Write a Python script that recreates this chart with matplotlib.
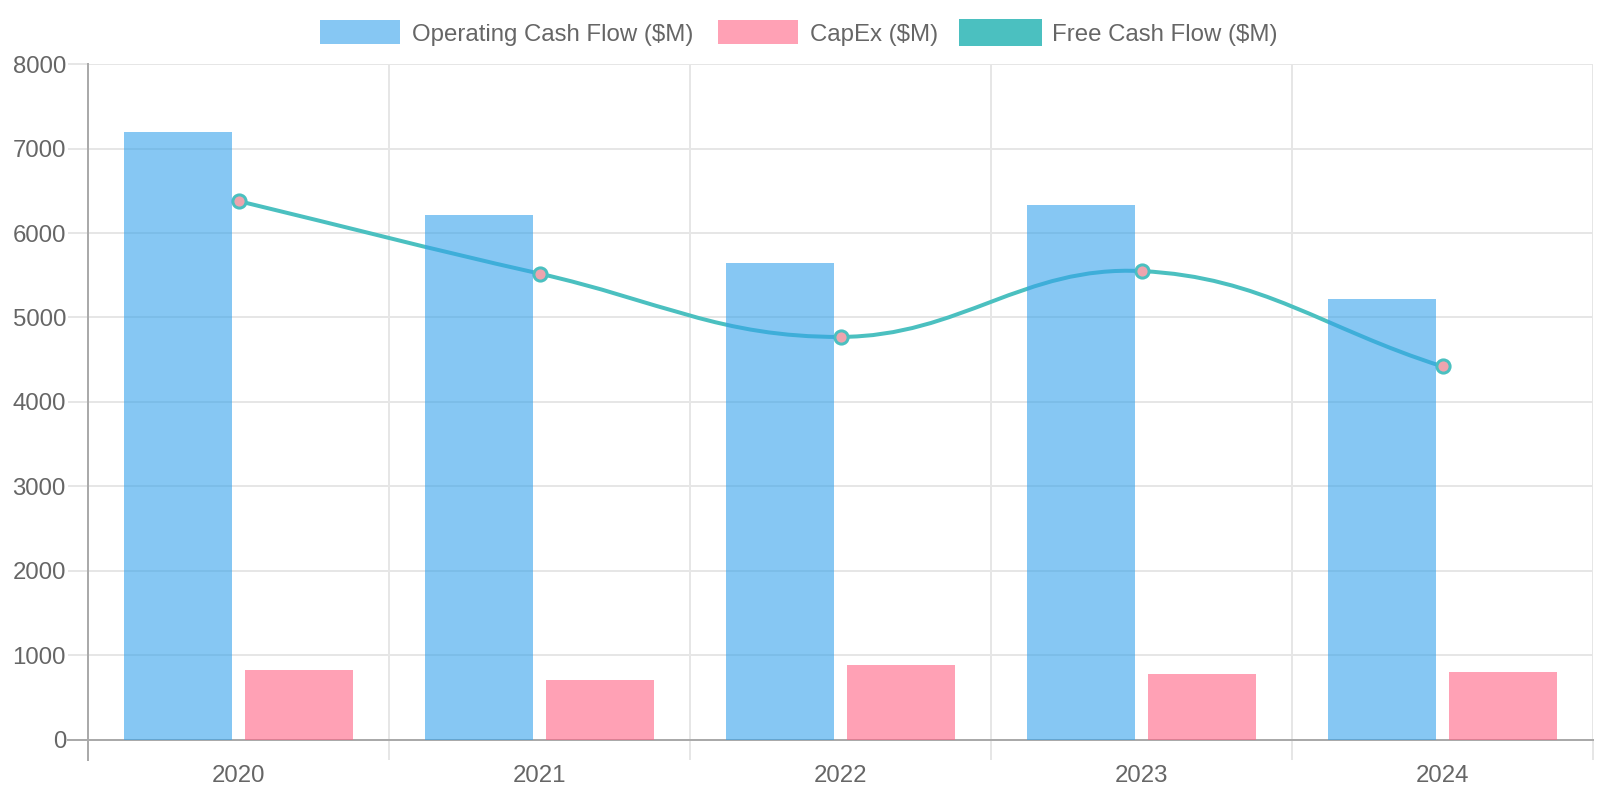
import numpy as np
import matplotlib
matplotlib.use("Agg")
import matplotlib.pyplot as plt
from matplotlib.path import Path
from matplotlib.patches import PathPatch, Rectangle
from matplotlib.lines import Line2D

plt.rcParams['font.family'] = ['Liberation Sans', 'DejaVu Sans']

# ---- data ----
years = ["2020", "2021", "2022", "2023", "2024"]
operating_cash_flow = [7200, 6220, 5650, 6330, 5220]
capex = [820, 700, 880, 780, 800]
free_cash_flow = [6380, 5520, 4770, 5550, 4420]
series_names = ["Operating Cash Flow ($M)", "CapEx ($M)", "Free Cash Flow ($M)"]
y_ticks = [0, 1000, 2000, 3000, 4000, 5000, 6000, 7000, 8000]

# ---- style ----
W, H = 1600, 800
PX = 72 / 100  # points per pixel at dpi 100
blue = (54/255, 162/255, 235/255, 0.6)
pink = (255/255, 99/255, 132/255, 0.6)
teal = (75/255, 192/255, 192/255)
grid_c = "#e6e6e6"
axis_c = "#aaaaaa"
text_c = "#666666"
fs = 24 * PX

fig = plt.figure(figsize=(W/100, H/100), dpi=100)
ax_l, ax_r, ax_t, ax_b = 88, 1593, 64.3, 739.5
ax = fig.add_axes([ax_l/W, 1 - ax_b/H, (ax_r-ax_l)/W, (ax_b-ax_t)/H])

n = len(years)
x = np.arange(n)
ax.set_xlim(-0.5, n - 0.5)
ax.set_ylim(0, 8000)

bw = 0.36
ax.bar(x - 0.2, operating_cash_flow, width=bw, color=blue, zorder=3, linewidth=0)
ax.bar(x + 0.2, capex, width=bw, color=pink, zorder=3, linewidth=0)

# spline line (Chart.js-like tension 0.4) computed in display space
pts = ax.transData.transform(np.column_stack([x, free_cash_flow]).astype(float))
t = 0.4
cp_prev = np.zeros_like(pts)
cp_next = np.zeros_like(pts)
for i in range(n):
    cur = pts[i]
    prev = pts[i-1] if i > 0 else cur
    nxt = pts[i+1] if i < n-1 else cur
    d01 = np.hypot(*(cur - prev))
    d12 = np.hypot(*(nxt - cur))
    tot = d01 + d12
    s01 = d01 / tot if tot else 0
    s12 = d12 / tot if tot else 0
    cp_prev[i] = cur - t * s01 * (nxt - prev)
    cp_next[i] = cur + t * s12 * (nxt - prev)
verts = [pts[0]]
codes = [Path.MOVETO]
for i in range(n - 1):
    verts += [cp_next[i], cp_prev[i+1], pts[i+1]]
    codes += [Path.CURVE4] * 3
verts = ax.transData.inverted().transform(np.array(verts))
ax.add_patch(PathPatch(Path(verts, codes), facecolor="none", edgecolor=teal,
                       linewidth=4*PX, zorder=2, capstyle="round", joinstyle="round"))
ax.plot(x, free_cash_flow, linestyle="none", marker="o", markersize=9.5,
        markerfacecolor="#eea4ae", markeredgecolor=teal, markeredgewidth=3*PX, zorder=2.5)

# axes styling
for s in ["top", "right"]:
    ax.spines[s].set_visible(False)
ax.spines["left"].set_color(axis_c)
ax.spines["bottom"].set_color(axis_c)
ax.spines["left"].set_linewidth(2*PX)
ax.spines["bottom"].set_linewidth(2*PX)

ax.set_yticks(y_ticks)
ax.set_yticklabels([str(v) for v in y_ticks])
ax.tick_params(axis="y", length=20*PX, width=2*PX, color=grid_c, pad=2*PX,
               labelsize=fs, labelcolor=text_c)
ax.yaxis.grid(True, color=grid_c, linewidth=2*PX, zorder=0)

ax.set_xticks(x)
ax.set_xticklabels(years)
ax.set_xticks(np.arange(n + 1) - 0.5, minor=True)
ax.tick_params(axis="x", which="major", length=0, pad=18.5, labelsize=fs, labelcolor=text_c)
ax.tick_params(axis="x", which="minor", length=20*PX, width=2*PX, color=grid_c)
ax.xaxis.grid(True, which="minor", color=grid_c, linewidth=2*PX, zorder=0)
ax.xaxis.grid(False, which="major")
ax.set_axisbelow(True)

# darker extensions of axis lines
ax.add_line(Line2D([-0.5, -0.5], [0, -20/(ax_b-ax_t)*8000], color=axis_c,
                   linewidth=2*PX, clip_on=False, zorder=4))
ax.add_line(Line2D([-0.5 - 20/(ax_r-ax_l)*n, -0.5], [0, 0], color=axis_c,
                   linewidth=2*PX, clip_on=False, zorder=4))

# legend (manual, Chart.js style)
leg_colors = [blue, pink, teal]
leg_edges = ["none", "none", teal]
box_x = [320, 718, 960]
box_w, box_h = 80, 24
box_top = 20
for name, c, ec, bx in zip(series_names, leg_colors, leg_edges, box_x):
    fig.patches.append(Rectangle((bx/W, 1 - (box_top+box_h)/H), box_w/W, box_h/H,
                                 transform=fig.transFigure, facecolor=c,
                                 edgecolor=ec, linewidth=3*PX, figure=fig))
    fig.text((bx + box_w + 12)/W, 1 - (box_top + box_h/2 + 2.5)/H, name, fontsize=fs,
             color=text_c, ha="left", va="center")

fig.savefig("out.png", dpi=100, facecolor="white")
